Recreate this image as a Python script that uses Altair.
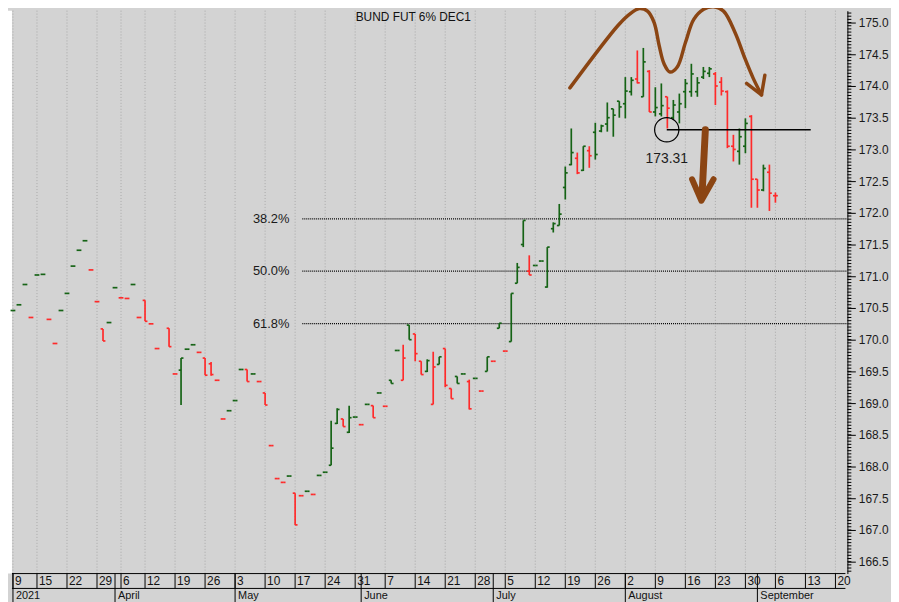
import altair as alt
import pandas as pd

W, H = 843, 568
BG = "#d3d3d3"
GREEN = "#156315"
RED = "#ff2a2a"
BROWN = "#8B4513"
FONT = "Liberation Sans"

title_text = "BUND FUT 6% DEC1"

# ---- daily OHLC, one entry per trading day (None = no trade) ----
opens = [170.46, 170.55, 170.87, 170.35, 171.02, 171.03, 170.32, 169.94, 170.46, 170.73,
         171.16, 171.41, 171.56, 171.10, 170.60, 170.17, 170.27, 170.82, 170.66, 170.65,
         170.87, 170.35, 170.62, 170.25, 169.86, None, 170.18, 169.46, 169.52, 169.85,
         169.92, 169.80, 169.71, 169.62, 169.36, 168.75, 168.88, 169.04, 169.53, 169.53,
         169.46, 169.34, 169.16, 168.33, 167.81, 167.75, 167.85, 167.58, 167.54, 167.61,
         167.56, 167.86, 167.91, 168.02, 168.68, 168.75, 168.54, 168.78, 168.66, 168.98,
         168.96, 169.16, 168.95, 169.36, 169.83, 169.36, 170.23, 170.09, 169.66, 169.50,
         168.98, 169.61, 169.86, 169.23, 169.42, 169.46, 169.34, 169.39, 169.19, 169.50,
         169.66, 170.18, 169.82, 169.97, 170.89, 171.50, 171.08, 171.17, 171.24, 170.83,
         171.75, 171.80, 172.40, 172.76, 172.86, 172.67, 172.98, 173.27, 173.29, 173.40,
         173.64, 173.76, 173.72, 173.91, 174.11, 173.83, 174.23, 173.59, 173.56, 173.83,
         173.50, 173.59, 173.91, 173.91, 173.91, 174.14, 174.20, 174.19, 174.06, 173.91,
         173.05, 172.97, 173.05, 173.52, 172.53, 172.36, 172.64, 172.27]
highs = [170.46, 170.55, 170.87, 170.35, 171.02, 171.03, 170.32, 169.94, 170.46, 170.73,
         171.16, 171.41, 171.56, 171.10, 170.60, 170.17, 170.27, 170.82, 170.66, 170.65,
         170.87, 170.35, 170.62, 170.25, 169.86, None, 170.18, 169.46, 169.71, 169.85,
         169.92, 169.80, 169.71, 169.65, 169.36, 168.75, 168.88, 169.04, 169.53, 169.53,
         169.46, 169.34, 169.16, 168.33, 167.81, 167.75, 167.85, 167.58, 167.54, 167.61,
         167.56, 167.86, 167.91, 168.72, 168.92, 168.75, 168.96, 168.78, 168.66, 168.98,
         168.96, 169.16, 168.95, 169.36, 169.83, 169.92, 170.23, 170.09, 169.66, 169.69,
         169.81, 169.73, 169.86, 169.23, 169.42, 169.46, 169.37, 169.39, 169.19, 169.73,
         169.66, 170.26, 169.82, 170.73, 171.21, 171.88, 171.33, 171.17, 171.24, 171.46,
         171.85, 172.14, 172.73, 173.33, 172.95, 173.05, 173.05, 173.42, 173.39, 173.74,
         173.64, 173.76, 174.14, 174.14, 174.56, 174.60, 174.25, 173.98, 174.04, 173.83,
         173.78, 173.88, 174.11, 174.35, 174.14, 174.30, 174.30, 174.22, 174.14, 173.93,
         173.23, 173.33, 173.49, 173.54, 172.53, 172.76, 172.76, 172.32]
lows = [170.46, 170.55, 170.87, 170.35, 171.02, 171.03, 170.32, 169.94, 170.46, 170.73,
        171.16, 171.41, 171.56, 171.10, 170.60, 169.98, 170.27, 170.82, 170.66, 170.65,
        170.87, 170.35, 170.29, 170.25, 169.86, None, 169.89, 169.46, 168.97, 169.85,
        169.92, 169.80, 169.44, 169.43, 169.36, 168.75, 168.88, 169.04, 169.53, 169.34,
        169.46, 169.34, 168.97, 168.33, 167.81, 167.75, 167.85, 167.08, 167.54, 167.61,
        167.56, 167.86, 167.91, 168.02, 168.67, 168.63, 168.53, 168.78, 168.66, 168.98,
        168.77, 169.16, 168.95, 169.31, 169.83, 169.36, 170.00, 169.66, 169.45, 169.49,
        168.98, 169.61, 169.25, 169.07, 169.31, 169.46, 168.90, 169.39, 169.19, 169.50,
        169.66, 170.18, 169.82, 169.97, 170.89, 171.46, 171.02, 171.17, 171.24, 170.82,
        171.69, 171.80, 172.21, 172.75, 172.61, 172.66, 172.71, 172.84, 173.27, 173.28,
        173.20, 173.50, 173.49, 173.85, 174.04, 173.83, 173.59, 173.52, 173.52, 173.33,
        173.48, 173.41, 173.65, 173.83, 173.83, 174.11, 174.14, 173.70, 173.85, 173.02,
        172.81, 172.76, 172.94, 172.08, 172.08, 172.34, 172.03, 172.16]
closes = [170.46, 170.55, 170.87, 170.35, 171.02, 171.03, 170.32, 169.94, 170.46, 170.73,
          171.16, 171.41, 171.56, 171.10, 170.60, 169.98, 170.27, 170.82, 170.66, 170.65,
          170.87, 170.35, 170.29, 170.25, 169.86, None, 169.89, 169.46, 169.71, 169.85,
          169.92, 169.80, 169.44, 169.45, 169.36, 168.75, 168.88, 169.04, 169.53, 169.34,
          169.46, 169.34, 168.97, 168.33, 167.81, 167.75, 167.85, 167.08, 167.54, 167.61,
          167.56, 167.86, 167.91, 168.29, 168.90, 168.63, 168.77, 168.78, 168.66, 168.98,
          168.77, 169.16, 168.95, 169.31, 169.83, 169.71, 170.00, 169.78, 169.45, 169.67,
          169.57, 169.73, 169.28, 169.07, 169.31, 169.46, 168.91, 169.39, 169.19, 169.73,
          169.66, 170.26, 169.82, 170.73, 171.14, 171.88, 171.02, 171.17, 171.24, 171.46,
          171.83, 171.98, 172.63, 172.95, 172.63, 173.05, 172.90, 172.92, 173.37, 173.50,
          173.54, 173.67, 173.92, 174.09, 174.05, 174.38, 173.59, 173.66, 173.69, 173.65,
          173.70, 173.72, 174.04, 174.19, 174.05, 174.23, 174.27, 174.00, 173.92, 173.05,
          173.00, 173.20, 173.41, 172.53, 172.36, 172.70, 172.31, 172.27]
# bar colour as drawn: u = green (up), d = red (down)
dirs = ["u", "u", "u", "d", "u", "u", "d", "d", "u", "u",
        "u", "u", "u", "d", "d", "d", "u", "u", "d", "d",
        "u", "d", "d", "d", "d", None, "d", "d", "u", "u",
        "u", "d", "d", "d", "d", "d", "u", "u", "u", "d",
        "u", "d", "d", "d", "d", "d", "u", "d", "d", "u",
        "d", "u", "u", "u", "u", "d", "u", "u", "d", "u",
        "d", "u", "d", "u", "u", "d", "u", "d", "d", "u",
        "d", "u", "d", "d", "u", "u", "d", "u", "d", "u",
        "d", "u", "d", "u", "u", "u", "d", "u", "u", "u",
        "u", "u", "u", "u", "d", "u", "d", "u", "u", "u",
        "u", "u", "u", "u", "d", "u", "d", "u", "u", "d",
        "u", "u", "u", "u", "u", "u", "u", "d", "d", "d",
        "d", "u", "u", "d", "d", "u", "d", "d"]

# ---- calendar axis (trading-day index of each week / month start) ----
week_labels = ["9", "15", "22", "29", "6", "12", "19", "26", "3", "10", "17", "24", "31", "7",
               "14", "21", "28", "5", "12", "19", "26", "2", "9", "16", "23", "30", "6", "13", "20"]
week_idx = [0, 4, 9, 14, 18, 22, 27, 32, 37, 42, 47, 52, 57, 62,
            67, 72, 77, 82, 87, 92, 97, 102, 107, 112, 117, 122, 127, 132, 137]
month_labels = ["2021", "April", "May", "June", "July", "August", "September"]
month_idx = [0, 17, 37, 58, 80, 102, 124]

# ---- price axis ----
major_ticks = [166.5 + 0.5 * k for k in range(18)]
minor_ticks = [round(166.35 + 0.05 * k, 2) for k in range(177)]

# ---- Fibonacci retracement levels ----
fib_labels = ["38.2%", "50.0%", "61.8%"]
fib_levels = [171.906, 171.08, 170.254]

# ---- double-top annotation ----
neckline = 173.31
curve_x = [92.77, 100.74, 102.67, 104.32, 105.69, 106.80, 107.63, 108.45, 109.44, 110.65,
           112.03, 113.40, 115.05, 116.71, 118.36, 120.29, 121.94, 123.31, 124.68]
curve_y = [173.97, 174.95, 175.13, 175.22, 175.18, 175.00, 174.64, 174.35, 174.22, 174.30,
           174.69, 175.05, 175.21, 175.25, 175.18, 174.84, 174.43, 174.12, 173.86]
curve_head_x = [122.20, 124.68, 125.24]
curve_head_y = [174.04, 173.86, 174.17]
down_shaft_x = [115.33, 114.77]
down_shaft_y = [173.31, 172.26]
down_head_x = [113.12, 114.67, 116.70]
down_head_y = [172.53, 172.19, 172.53]

# ---------------------------------------------------------------
xs = alt.Scale(domain=[-0.165, 138.99], nice=False, zero=False)
ys = alt.Scale(domain=[166.3125, 175.1875], nice=False, zero=False)

yaxis = alt.Axis(orient="right", values=major_ticks, format=".1f", tickSize=8, tickWidth=1,
                 labelPadding=3, labelFontSize=12, labelFont=FONT, labelColor="#1a1a1a",
                 domainColor="black", tickColor="black", domainWidth=1, grid=False,
                 title=None, labelOverlap=False, labelFlush=False)


def Y(field):
    return alt.Y(field, scale=ys, axis=yaxis)


def X(field):
    return alt.X(field, scale=xs, axis=None)


rows = []
for i, (o, h, l, c, d) in enumerate(zip(opens, highs, lows, closes, dirs)):
    if o is None:
        continue
    rows.append(dict(i=i, o=o, h=h, l=l, c=c, d=d, xl=i - 0.4, xr=i + 0.4))
bars = pd.DataFrame(rows)

color = alt.Color("d:N", scale=alt.Scale(domain=["u", "d"], range=[GREEN, RED]), legend=None)

one = pd.DataFrame({"a": [0]})

strip = alt.Chart(one).mark_rect(color="white").encode(
    x=alt.value(-4), x2=alt.value(0), y=alt.value(0), y2=alt.value(H))

weeks = pd.DataFrame({"i": week_idx, "label": week_labels})
months = pd.DataFrame({"i": month_idx, "label": month_labels})

grid = alt.Chart(weeks).mark_rule(color="#a9a9a9", strokeDash=[1, 2], strokeWidth=1).encode(
    x=X("i:Q"), y=alt.value(0), y2=alt.value(H))

fib = pd.DataFrame({"level": fib_levels, "label": fib_labels})
fib_lines = alt.Chart(fib).mark_rule(color="black", strokeDash=[1, 1], strokeWidth=1.3).encode(
    x=alt.XDatum(48.2, scale=xs, axis=None), x2=alt.value(W), y=Y("level:Q"))
fib_text = alt.Chart(fib).mark_text(align="right", baseline="middle", fontSize=13, font=FONT,
                                    color="#1a1a1a").encode(
    x=alt.XDatum(46.05, scale=xs, axis=None), y=Y("level:Q"), text="label:N")

hl = alt.Chart(bars).mark_rule(strokeWidth=1.7).encode(
    x=X("i:Q"), y=Y("l:Q"), y2="h:Q", color=color)
op = alt.Chart(bars).mark_rule(strokeWidth=1.7).encode(
    x=X("xl:Q"), x2="i:Q", y=Y("o:Q"), color=color)
cl = alt.Chart(bars).mark_rule(strokeWidth=1.7).encode(
    x=X("i:Q"), x2="xr:Q", y=Y("c:Q"), color=color)

neck = pd.DataFrame({"x0": [108.9], "x1": [132.88], "y": [neckline],
                     "label": [f"{neckline:.2f}"]})
neck_line = alt.Chart(neck).mark_rule(color="black", strokeWidth=1.3).encode(
    x=X("x0:Q"), x2="x1:Q", y=Y("y:Q"))
neck_circle = alt.Chart(neck).mark_point(shape="circle", filled=False, size=600,
                                          color="black", strokeWidth=1.2, opacity=1).encode(
    x=X("x0:Q"), y=Y("y:Q"))
neck_text = alt.Chart(neck).mark_text(fontSize=14, font=FONT, color="#1a1a1a", dy=30,
                                      baseline="middle").encode(
    x=X("x0:Q"), y=Y("y:Q"), text="label:N")


def path(xv, yv, width, interp="linear"):
    df = pd.DataFrame({"x": xv, "y": yv, "k": list(range(len(xv)))})
    return alt.Chart(df).mark_line(color=BROWN, strokeWidth=width, strokeCap="round",
                                   strokeJoin="round", interpolate=interp).encode(
        x=X("x:Q"), y=Y("y:Q"), order="k:Q")


curve = path(curve_x, curve_y, 3.5, "catmull-rom")
curve_head = path(curve_head_x, curve_head_y, 3.5)
shaft = path(down_shaft_x, down_shaft_y, 7)
head = path(down_head_x, down_head_y, 6)

# bottom calendar axis
box_top = alt.Chart(one).mark_rule(color="black", strokeWidth=1).encode(
    x=alt.value(0), x2=alt.value(W - 2), y=alt.value(H))
box_bot = alt.Chart(one).mark_rule(color="black", strokeWidth=1).encode(
    x=alt.value(0), x2=alt.value(W - 2), y=alt.value(H + 15))
week_lines = alt.Chart(weeks).mark_rule(color="black", strokeWidth=1).encode(
    x=X("i:Q"), y=alt.value(H), y2=alt.value(H + 15))
month_lines = alt.Chart(months).mark_rule(color="black", strokeWidth=1).encode(
    x=X("i:Q"), y=alt.value(H), y2=alt.value(H + 40))
week_text = alt.Chart(weeks).mark_text(align="left", baseline="alphabetic", dx=2, fontSize=12,
                                       font=FONT, color="#111111").encode(
    x=X("i:Q"), y=alt.value(H + 12), text="label:N")
month_text = alt.Chart(months).mark_text(align="left", baseline="alphabetic", dx=3, fontSize=11,
                                         font=FONT, color="#111111").encode(
    x=X("i:Q"), y=alt.value(H + 25.5), text="label:N")

minor = alt.Chart(pd.DataFrame({"v": minor_ticks})).mark_rule(color="black", strokeWidth=1).encode(
    x=alt.value(W), x2=alt.value(W + 4), y=Y("v:Q"))

title = alt.Chart(pd.DataFrame({"t": [title_text]})).mark_text(
    fontSize=12, font=FONT, color="#111111", baseline="middle").encode(
    x=alt.value(405), y=alt.value(6), text="t:N")

chart = alt.layer(
    strip, grid, fib_lines, fib_text, hl, op, cl, neck_line, neck_circle, neck_text,
    curve, curve_head, shaft, head,
    box_top, box_bot, week_lines, month_lines, week_text, month_text, minor, title
).properties(
    width=W, height=H,
    autosize=alt.AutoSizeParams(type="none"),
    padding={"left": 4, "top": 0, "right": 44, "bottom": 26},
).configure(background=BG).configure_view(fill=BG, stroke=None)

chart.save("out.html", embed_options={"renderer": "svg", "actions": False})
